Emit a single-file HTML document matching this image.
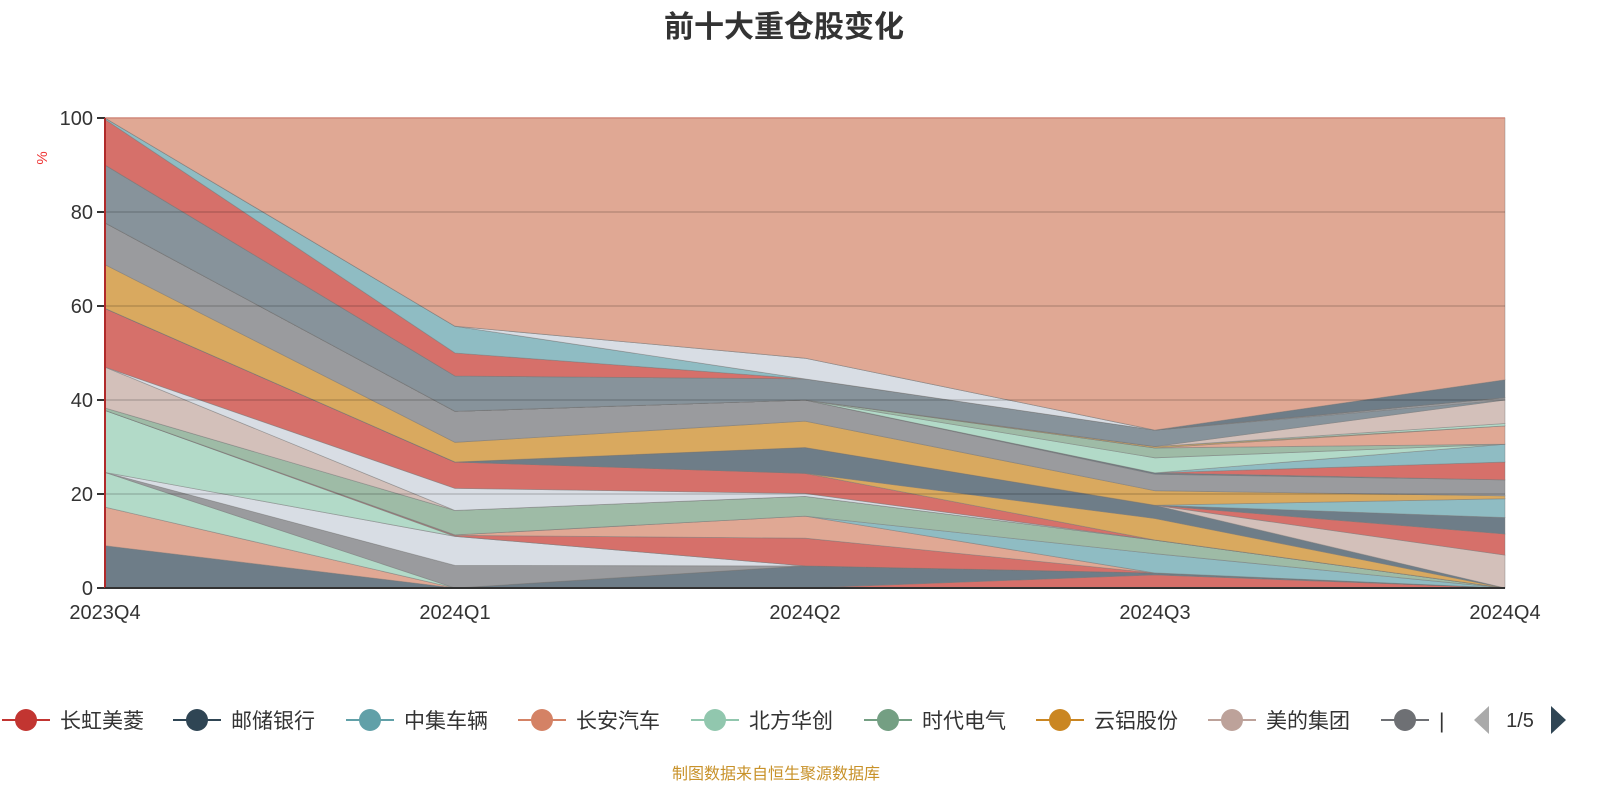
<!DOCTYPE html>
<html><head><meta charset="utf-8">
<style>
body{margin:0;background:#fff;width:1600px;height:800px;overflow:hidden;font-family:"Liberation Sans","Noto Sans CJK SC",sans-serif;}
svg text{font-family:"Liberation Sans","Noto Sans CJK SC",sans-serif;}
</style></head>
<body>
<svg id="chart" width="1600" height="800" xmlns="http://www.w3.org/2000/svg">
<text x="784" y="37" text-anchor="middle" font-size="30" font-weight="bold" fill="#333">前十大重仓股变化</text>
<text x="0" y="0" transform="translate(47,158) rotate(-90)" text-anchor="middle" font-size="15" fill="#e33">%</text>
<g id="areas"></g>
<g id="grid"></g>
<g id="axes"></g>
<g id="legend"></g>
<text x="776" y="779" text-anchor="middle" font-size="16" fill="#c8922a">制图数据来自恒生聚源数据库</text>
</svg>
<script>
const categories=["2023Q4","2024Q1","2024Q2","2024Q3","2024Q4"];
const yTicks=[0,20,40,60,80,100];
const seriesColors=["#d6706a","#6e7d88","#e0a894","#b2dac8","#9a9b9e","#d8dde4","#b2dac8","#d6706a","#e0a894","#8fbcc3","#9ebba6","#d3c0ba","#d8dde4","#d6706a","#d9a95f","#6e7d88","#d3c0ba","#d6706a","#6e7d88","#8fbcc3","#d9a95f","#9a9b9e","#6e7d88","#d6706a","#8fbcc3","#b2dac8","#9ebba6","#e0a894","#d9a95f","#b2dac8","#d3c0ba","#87939b","#9a9b9e","#d6706a","#8fbcc3","#d8dde4","#6e7d88","#e0a894"];
const s00=[0,0,0,2.8,0];
const s01=[9,0,4.7,0.4,0];
const s02=[8.2,0,0,0,0];
const s03=[7.4,0,0,0,0];
const s04=[0,4.8,0,0,0];
const s05=[0,6.2,0,0,0];
const s06=[13.2,0,0,0,0];
const s07=[0,0.2,5.9,0,0];
const s08=[0,0.1,4.7,0,0];
const s09=[0,0,0,4.1,0];
const s10=[0.5,5.2,4.2,2.9,0];
const s11=[8.7,0,0,0,0];
const s12=[0,4.7,0.6,0,0];
const s13=[12.5,5.6,4.3,0,0];
const s14=[0,0,0,4.6,0];
const s15=[0,0,5.5,2.8,0];
const s16=[0,0,0,0,7];
const s17=[0,0,0,0,4.5];
const s18=[0,0,0,0,3.5];
const s19=[0,0,0,0,4];
const s20=[9.3,4.2,5.6,3.1,0.6];
const s21=[8.9,6.6,4.5,3.5,3.4];
const s22=[0,0,0,0.3,0];
const s23=[0,0,0,0,3.8];
const s24=[0,0,0,0,3.8];
const s25=[0,0,0,3.2,0];
const s26=[0,0,0,2.1,0];
const s27=[0,0,0,0,3.9];
const s28=[0,0,0,0.3,0];
const s29=[0,0,0,0,0.5];
const s30=[0,0,0,0,5];
const s31=[12.3,7.5,4.5,3.5,0];
const s32=[0,0,0,0,0.5];
const s33=[9.7,4.9,0,0,0];
const s34=[0.3,5.7,0,0,0];
const s35=[0,0,4.4,0,0];
const s36=[0,0,0,0,3.8];
const otherValues=[0,44.3,51.1,66.4,55.7];
const seriesList=[s00,s01,s02,s03,s04,s05,s06,s07,s08,s09,s10,s11,s12,s13,s14,s15,s16,s17,s18,s19,s20,s21,s22,s23,s24,s25,s26,s27,s28,s29,s30,s31,s32,s33,s34,s35,s36,otherValues];
const legendNames=["长虹美菱","邮储银行","中集车辆","长安汽车","北方华创","时代电气","云铝股份","美的集团","|"];
const legendColors=["#c23531","#2f4554","#61a0a8","#d48265","#91c7ae","#749f83","#ca8622","#bda29a","#6e7074"];

const NS="http://www.w3.org/2000/svg";
const X0=105,X1=1505,Y0=588,Y1=118;
function xScale(i){return X0+i*(X1-X0)/(categories.length-1);}
function yScale(v){return Y0-(v/100)*(Y0-Y1);}
function mk(tag,attrs,parent){const e=document.createElementNS(NS,tag);for(const k in attrs)e.setAttribute(k,attrs[k]);parent.appendChild(e);return e;}

const areas=document.getElementById('areas');
let base=categories.map(()=>0);
seriesList.forEach((vals,si)=>{
  const top=base.map((b,i)=>Math.min(100,b+vals[i]));
  let d="M"+categories.map((c,i)=>xScale(i)+","+yScale(top[i])).join("L");
  for(let i=categories.length-1;i>=0;i--)d+="L"+xScale(i)+","+yScale(base[i]);
  d+="Z";
  const p=mk('path',{d:d,fill:seriesColors[si],stroke:"rgba(120,120,120,0.5)","stroke-width":"0.8"},areas);
  
  
  base=top;
});
const topLine=mk('line',{x1:X0,y1:Y1,x2:X1,y2:Y1,stroke:"#d0887a","stroke-width":"1.5"},areas);



const grid=document.getElementById('grid');
const axes=document.getElementById('axes');
yTicks.forEach(t=>{
  const y=yScale(t);
  if(t>0&&t<100){const g=mk('line',{x1:X0,y1:y,x2:X1,y2:y,stroke:"rgba(0,0,0,0.13)","stroke-width":"2"},grid);
  
  }
  const tk=mk('line',{x1:X0-8,y1:y,x2:X0,y2:y,stroke:"#333","stroke-width":"2"},axes);
  
  
  const tx=mk('text',{x:X0-12,y:y+7,"text-anchor":"end","font-size":"20",fill:"#333"},axes);
  tx.textContent=t;
  
  
});
const ya=mk('line',{x1:X0,y1:Y1,x2:X0,y2:Y0,stroke:"#b02a2a","stroke-width":"2"},axes);


const xa=mk('line',{x1:X0,y1:Y0,x2:X1,y2:Y0,stroke:"#333","stroke-width":"2"},axes);


categories.forEach((c,i)=>{
  const tx=mk('text',{x:xScale(i),y:619,"text-anchor":"middle","font-size":"20",fill:"#333"},axes);
  tx.textContent=c;
  
  
});

const legend=document.getElementById('legend');
const legendX=[26,197,370,542,715,888,1060,1232,1405];
legendNames.forEach((n,i)=>{
  const g=mk('g',{},legend);
  
  
  const cx=legendX[i];
  mk('line',{x1:cx-24,y1:720,x2:cx+24,y2:720,stroke:legendColors[i],"stroke-width":"2"},g);
  mk('circle',{cx:cx,cy:720,r:11,fill:legendColors[i]},g);
  const t=mk('text',{x:cx+34,y:728,"font-size":"21",fill:"#333"},g);
  t.textContent=n;
});
const pl=mk('path',{d:"M1489,706L1489,734L1474,720Z",fill:"#aaa"},legend);


const pt=mk('text',{x:1520,y:727,"text-anchor":"middle","font-size":"20",fill:"#333"},legend);
pt.textContent="1/5";


const pn=mk('path',{d:"M1551,706L1551,734L1566,720Z",fill:"#2f4554"},legend);


</script>
</body></html>
